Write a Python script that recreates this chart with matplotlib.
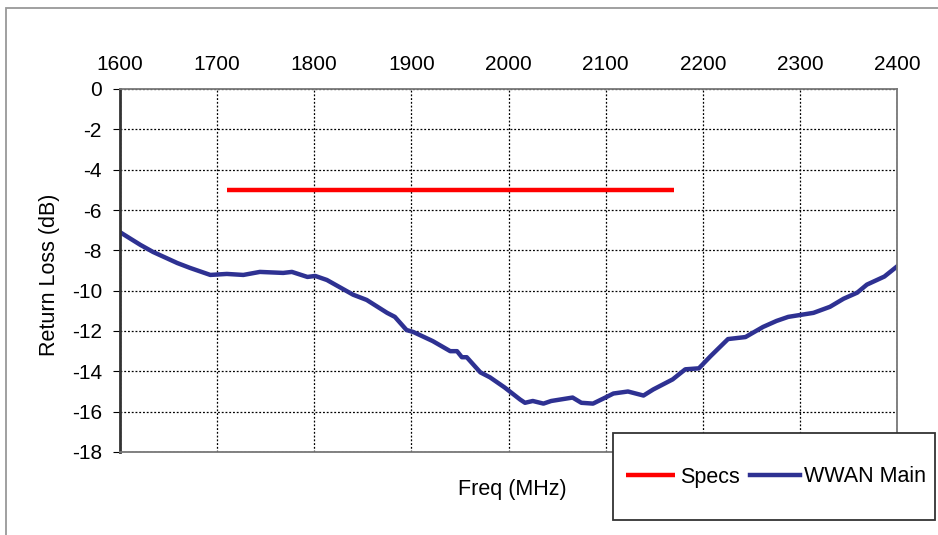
import matplotlib.pyplot as plt
from matplotlib.patches import Rectangle

# WWAN main antenna return loss
freq = [1600, 1621, 1634, 1659, 1672, 1693, 1710, 1727, 1744, 1768, 1777, 1793,
        1801, 1813, 1840, 1854, 1875, 1883, 1895, 1902, 1922, 1940, 1947, 1952,
        1957, 1971, 1981, 1996, 2012, 2017, 2025, 2036, 2044, 2066, 2075, 2087,
        2101, 2108, 2123, 2139, 2149, 2169, 2182, 2196, 2208, 2226, 2244, 2262,
        2276, 2288, 2314, 2331, 2345, 2359, 2369, 2387, 2400]
rl = [-7.1, -7.73, -8.08, -8.63, -8.87, -9.22, -9.17, -9.22, -9.07, -9.12, -9.07, -9.32,
      -9.27, -9.47, -10.2, -10.46, -11.1, -11.3, -11.95, -12.05, -12.5, -13.0, -13.0, -13.3,
      -13.3, -14.05, -14.3, -14.8, -15.4, -15.56, -15.47, -15.6, -15.47, -15.3, -15.56, -15.6,
      -15.27, -15.1, -15.0, -15.2, -14.9, -14.4, -13.9, -13.85, -13.25, -12.4, -12.3, -11.8,
      -11.5, -11.3, -11.1, -10.8, -10.4, -10.1, -9.7, -9.3, -8.8]

spec_freq = [1710, 2170]
spec_rl = [-5, -5]

xticks = list(range(1600, 2401, 100))
yticks = list(range(0, -19, -2))

plt.rcParams['font.family'] = ['Liberation Sans', 'DejaVu Sans']
plt.rcParams['axes.unicode_minus'] = False

fig = plt.figure(figsize=(9.38, 5.35), dpi=100)
ax = fig.add_axes([120 / 938, 1 - 452 / 535, 777 / 938, 363 / 535])

ax.plot(spec_freq, spec_rl, color='#ff0000', lw=3.2, label='Specs', solid_capstyle='butt')
ax.plot(freq, rl, color='#2e3192', lw=3.2, label='WWAN Main')

ax.set_xlim(1600, 2400)
ax.set_ylim(-18, 0)
ax.set_xticks(xticks)
ax.set_yticks(yticks)
ax.xaxis.tick_top()
ax.tick_params(axis='x', length=0, labelsize=15, pad=11)
ax.tick_params(axis='y', length=5, labelsize=15, pad=8)
ax.grid(True, color='black', linestyle=(0, (1.5, 1.5)), lw=0.9)

ax.spines['left'].set_linewidth(2)
ax.spines['left'].set_color('#333333')
for s in ['top', 'bottom', 'right']:
    ax.spines[s].set_color('#777777')
    ax.spines[s].set_linewidth(1.3)

fig.text(50 / 938, 1 - 275 / 535, 'Return Loss (dB)', fontsize=15.5, rotation=90,
         ha='center', va='center')
fig.text(512 / 938, 1 - 490 / 535, 'Freq (MHz)', fontsize=15.5, ha='center', va='center')

# legend box sits over the lower right of the plot
fig.patches.append(Rectangle((613 / 938, 1 - 520 / 535), 322 / 938, 87 / 535,
                             transform=fig.transFigure, facecolor='white',
                             edgecolor='#333333', lw=1.3, zorder=5))
leg = fig.legend(loc='center', bbox_to_anchor=(776 / 938, 1 - 477 / 535), ncol=2, fontsize=15.5,
                 frameon=False, handlelength=2.3, handletextpad=0.2, columnspacing=0.5,
                 borderaxespad=0)
leg.set_zorder(6)

fig.patches.append(Rectangle((6 / 938, -0.05), 1.0, 1 - 8 / 535 + 0.05, transform=fig.transFigure,
                             fill=False, edgecolor='#999999', lw=1.3))

fig.savefig('out.png', dpi=100)
